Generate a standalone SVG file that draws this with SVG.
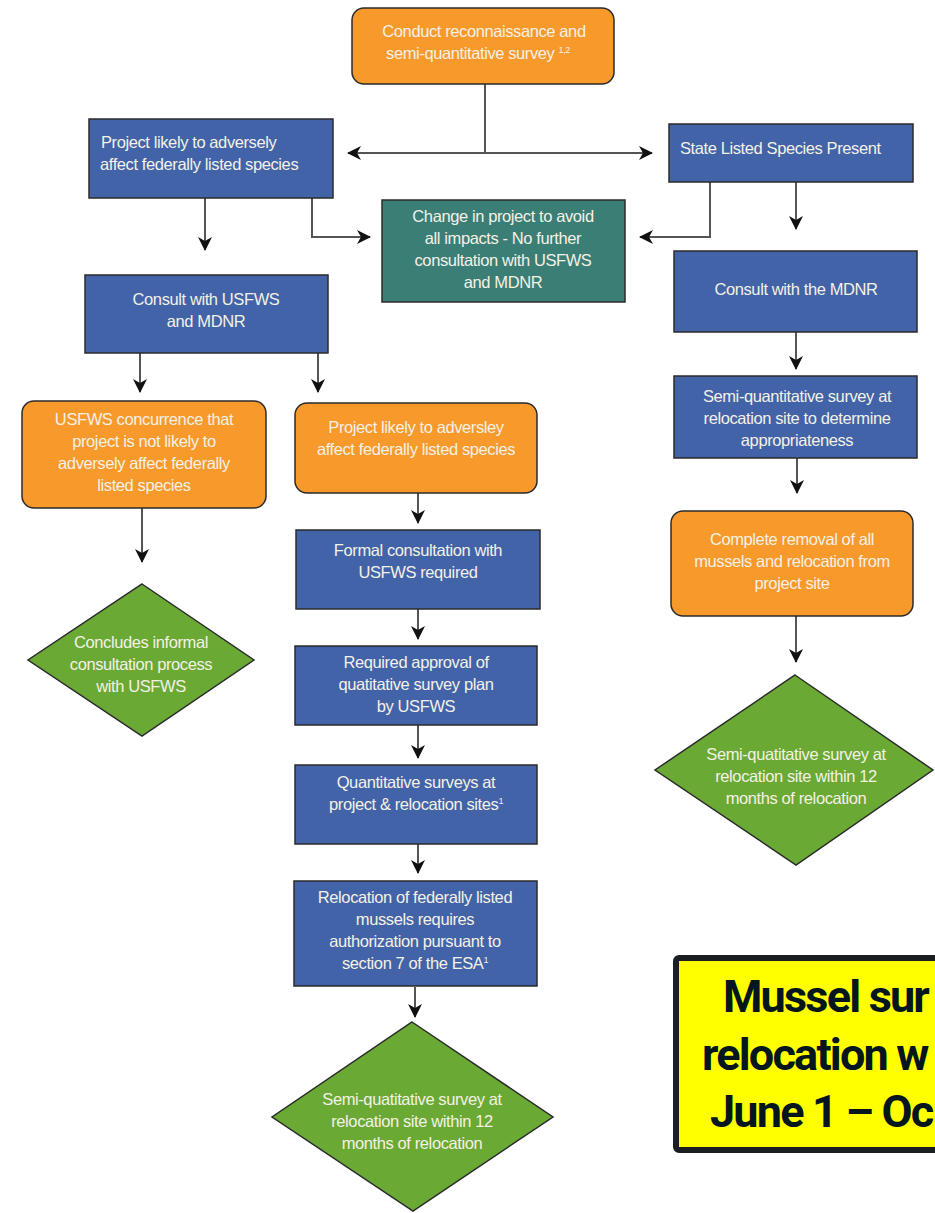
<svg xmlns="http://www.w3.org/2000/svg" width="935" height="1213" viewBox="0 0 935 1213">
<defs>
<marker id="ah" viewBox="0 0 14 14" refX="13" refY="7" markerWidth="14" markerHeight="14" markerUnits="userSpaceOnUse" orient="auto">
<path d="M0,0 L14,7 L0,14 L4,7 z" fill="#111"/>
</marker>
<style>
.bx{stroke:#2b2b2b;stroke-width:1.5}
.blue{fill:#4263a8}
.orange{fill:#f7992b}
.green{fill:#69a934}
.teal{fill:#3a7e75}
.t{font-family:"Liberation Sans",Arial,sans-serif;font-size:16.5px;fill:#f4f1e6;letter-spacing:-0.4px}
.c{text-anchor:middle}
.sup{font-size:9px}
.con{fill:none;stroke:#555;stroke-width:2;marker-end:url(#ah)}
.conn{fill:none;stroke:#555;stroke-width:2}
.big{font-family:Roboto,"Liberation Sans",sans-serif;font-weight:bold;font-size:45px;fill:#03161e;letter-spacing:-1.8px}
</style>
</defs>
<rect width="935" height="1213" fill="#fff"/>

<g id="connectors">
<path class="conn" d="M485,84 V153"/>
<path class="con" d="M485,153 H348"/>
<path class="con" d="M485,153 H652"/>
<path class="con" d="M205,198 V250"/>
<path class="con" d="M312,198 V237 H370"/>
<path class="con" d="M710,182 V237 H640"/>
<path class="con" d="M796,182 V229"/>
<path class="con" d="M140,353 V392"/>
<path class="con" d="M318,353 V392"/>
<path class="con" d="M796,332 V369"/>
<path class="con" d="M797,458 V493"/>
<path class="con" d="M796,616 V662"/>
<path class="con" d="M142,508 V562"/>
<path class="con" d="M418,493 V523"/>
<path class="con" d="M418,609 V639"/>
<path class="con" d="M418,725 V758"/>
<path class="con" d="M418,844 V873"/>
<path class="con" d="M415,987 V1017"/>
</g>

<g id="n-recon">
<rect class="bx orange" x="352" y="8" width="262" height="76" rx="12"/>
<text class="t c" x="484" y="37">Conduct reconnaissance and</text>
<text class="t c" x="478" y="59">semi-quantitative survey <tspan class="sup" dy="-6">1,2</tspan></text>
</g>

<g id="n-fed">
<rect class="bx blue" x="89" y="119" width="244" height="79"/>
<text class="t" x="101" y="148">Project likely to adversely</text>
<text class="t" x="100" y="170">affect federally listed species</text>
</g>

<g id="n-state">
<rect class="bx blue" x="669" y="124" width="244" height="58"/>
<text class="t" x="680" y="154">State Listed Species Present</text>
</g>

<g id="n-change">
<rect class="bx teal" x="382" y="200" width="243" height="102"/>
<text class="t c" x="503" y="222">Change in project to avoid</text>
<text class="t c" x="503" y="244">all impacts -  No further</text>
<text class="t c" x="503" y="266">consultation with USFWS</text>
<text class="t c" x="503" y="288">and MDNR</text>
</g>

<g id="n-consult1">
<rect class="bx blue" x="85" y="275" width="243" height="78"/>
<text class="t c" x="206" y="305">Consult with USFWS</text>
<text class="t c" x="206" y="327">and MDNR</text>
</g>

<g id="n-consult2">
<rect class="bx blue" x="674" y="251" width="243" height="81"/>
<text class="t c" x="796" y="295">Consult with the MDNR</text>
</g>

<g id="n-semi">
<rect class="bx blue" x="674" y="376" width="243" height="82"/>
<text class="t c" x="797" y="402">Semi-quantitative survey at</text>
<text class="t c" x="797" y="424">relocation site to determine</text>
<text class="t c" x="797" y="446">appropriateness</text>
</g>

<g id="n-removal">
<rect class="bx orange" x="671" y="511" width="242" height="105" rx="12"/>
<text class="t c" x="792" y="545">Complete removal of all</text>
<text class="t c" x="792" y="567">mussels and relocation from</text>
<text class="t c" x="792" y="589">project site</text>
</g>

<g id="n-diamond-right">
<polygon class="bx green" points="795,675 933,770 796,865 655,770"/>
<text class="t c" x="796" y="760">Semi-quatitative survey at</text>
<text class="t c" x="796" y="782">relocation site within 12</text>
<text class="t c" x="796" y="804">months of relocation</text>
</g>

<g id="n-concur">
<rect class="bx orange" x="22" y="401" width="244" height="107" rx="12"/>
<text class="t c" x="144" y="425">USFWS concurrence that</text>
<text class="t c" x="144" y="447">project is not likely to</text>
<text class="t c" x="144" y="469">adversely affect federally</text>
<text class="t c" x="144" y="491">listed species</text>
</g>

<g id="n-diamond-left">
<polygon class="bx green" points="142,584 254,660 142,736 28,660"/>
<text class="t c" x="141" y="648">Concludes informal</text>
<text class="t c" x="141" y="670">consultation process</text>
<text class="t c" x="141" y="692">with USFWS</text>
</g>

<g id="n-likely">
<rect class="bx orange" x="295" y="403" width="242" height="90" rx="12"/>
<text class="t c" x="416" y="433">Project likely to adversley</text>
<text class="t c" x="416" y="455">affect federally listed species</text>
</g>

<g id="n-formal">
<rect class="bx blue" x="296" y="530" width="244" height="79"/>
<text class="t c" x="418" y="556">Formal consultation with</text>
<text class="t c" x="418" y="578">USFWS required</text>
</g>

<g id="n-approval">
<rect class="bx blue" x="295" y="646" width="242" height="79"/>
<text class="t c" x="416" y="668">Required approval of</text>
<text class="t c" x="416" y="690">quatitative survey plan</text>
<text class="t c" x="416" y="712">by USFWS</text>
</g>

<g id="n-quant">
<rect class="bx blue" x="295" y="765" width="242" height="79"/>
<text class="t c" x="416" y="788">Quantitative surveys at</text>
<text class="t c" x="416" y="810">project &amp; relocation sites<tspan class="sup" dy="-6">1</tspan></text>
</g>

<g id="n-relocation">
<rect class="bx blue" x="294" y="881" width="243" height="105"/>
<text class="t c" x="415" y="903">Relocation of federally listed</text>
<text class="t c" x="415" y="925">mussels requires</text>
<text class="t c" x="415" y="947">authorization pursuant to</text>
<text class="t c" x="415" y="969">section 7 of the ESA<tspan class="sup" dy="-6">1</tspan></text>
</g>

<g id="n-diamond-bottom">
<polygon class="bx green" points="412,1022 553,1117 413,1211 272,1117"/>
<text class="t c" x="412" y="1105">Semi-quatitative survey at</text>
<text class="t c" x="412" y="1127">relocation site within 12</text>
<text class="t c" x="412" y="1149">months of relocation</text>
</g>

<g id="n-note">
<rect x="676" y="958" width="280" height="192" rx="3" fill="#ffff00" stroke="#1c1f22" stroke-width="6"/>
<text class="big" x="723" y="1012">Mussel sur</text>
<text class="big" x="702" y="1070">relocation w</text>
<text class="big" x="710" y="1127">June 1 – Oc</text>
</g>
</svg>
